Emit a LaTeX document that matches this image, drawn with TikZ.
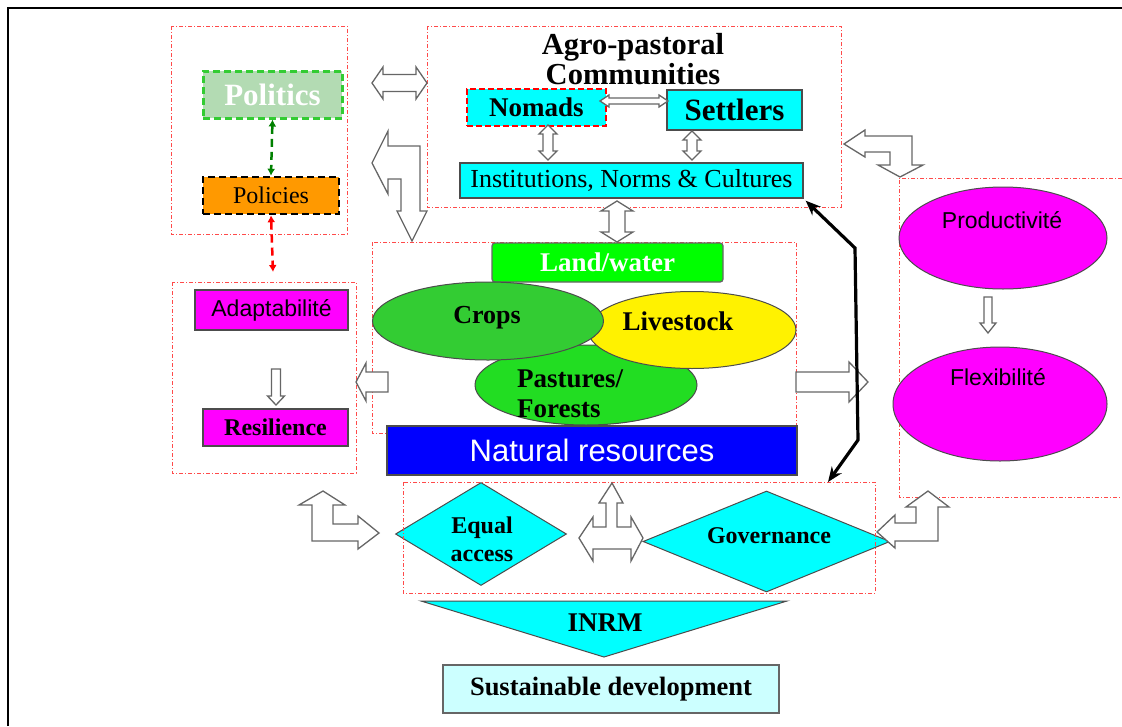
\documentclass[tikz,border=0pt]{standalone}
\usepackage{fontspec}
\setmainfont{Liberation Serif}
\newfontfamily\arialf{Liberation Sans}
\usetikzlibrary{shapes.geometric,arrows.meta}
\definecolor{grpred}{HTML}{FF4A4A}
\definecolor{polgreen}{HTML}{B3DBB3}
\definecolor{polborder}{HTML}{33CC33}
\definecolor{orangef}{HTML}{FF9900}
\definecolor{cyanf}{HTML}{00FFFF}
\definecolor{magf}{HTML}{FF00FF}
\definecolor{cropg}{HTML}{33CC33}
\definecolor{pastg}{HTML}{22DD22}
\definecolor{landg}{HTML}{00FF00}
\definecolor{blueNR}{HTML}{0000FF}
\definecolor{sdcyan}{HTML}{CCFFFF}
\definecolor{darkg}{HTML}{008000}
\newcommand\myfs[1]{\fontsize{#1}{#1}\selectfont}
% horizontal double block arrow: x1 x2 y shafthalf headhalf headlen
\newcommand\myHdbl[6]{\draw[blockarr] (#1,#3) -- ({#1+#6},{#3-#5}) -- ({#1+#6},{#3-#4}) -- ({#2-#6},{#3-#4}) -- ({#2-#6},{#3-#5}) -- (#2,#3) -- ({#2-#6},{#3+#5}) -- ({#2-#6},{#3+#4}) -- ({#1+#6},{#3+#4}) -- ({#1+#6},{#3+#5}) -- cycle;}
% vertical double block arrow: y1 y2 x shafthalf headhalf headlen
\newcommand\myVdbl[6]{\draw[blockarr] (#3,#1) -- ({#3+#5},{#1+#6}) -- ({#3+#4},{#1+#6}) -- ({#3+#4},{#2-#6}) -- ({#3+#5},{#2-#6}) -- (#3,#2) -- ({#3-#5},{#2-#6}) -- ({#3-#4},{#2-#6}) -- ({#3-#4},{#1+#6}) -- ({#3-#5},{#1+#6}) -- cycle;}
% vertical single down arrow: y1 y2 x shafthalf headhalf headlen
\newcommand\myVdown[6]{\draw[blockarr] ({#3-#4},#1) -- ({#3+#4},#1) -- ({#3+#4},{#2-#6}) -- ({#3+#5},{#2-#6}) -- (#3,#2) -- ({#3-#5},{#2-#6}) -- ({#3-#4},{#2-#6}) -- cycle;}
\begin{document}
\begin{tikzpicture}[x=1pt,y=-1pt,
  grp/.style={draw=grpred, line width=0.9pt, dash pattern=on 4pt off 2pt on 1pt off 2pt},
  blockarr/.style={draw=black!60, fill=white, line width=1.3pt, line join=miter},
  rbox/.style={rectangle, inner sep=0pt, line width=1.3pt},
  ell/.style={ellipse, draw=black!70, line width=1pt, inner sep=0pt},
  dia/.style={diamond, draw=black!70, line width=1pt, inner sep=0pt, fill=cyanf},
  lbl/.style={anchor=base, inner sep=0pt, font=\bfseries\myfs{#1}},
  lbl/.default=24,
  bigarr/.style={line width=3.2pt, {Stealth[length=15pt,width=12pt]}-{Stealth[length=15pt,width=12pt]}},
  dasharr/.style={line width=2.5pt, dash pattern=on 8pt off 5pt, {Latex[length=7pt,width=8pt]}-{Latex[length=7pt,width=8pt]}}
]
\useasboundingbox (0,0) rectangle (1122,726);
\fill[white] (0,0) rectangle (1122,726);
\draw[line width=2pt] (8,726) -- (8,8) -- (1122,8);

% group frames
\draw[grp] (171,26) rectangle (347,234);
\draw[grp] (427,26) rectangle (841,207);
\draw[grp] (1122,178) -- (899,178) -- (899,497) -- (1122,497);
\draw[grp] (372,242) rectangle (796,433);
\draw[grp] (172,282) rectangle (356,473);

% left column
\node[rbox, draw=polborder, dash pattern=on 7pt off 4pt, line width=3pt, fill=polgreen,
  minimum width=139, minimum height=47, text=white, font=\bfseries\myfs{31}] (politics) at (272.5,94.5) {Politics};
\node[rbox, draw=black, dash pattern=on 7pt off 4pt, line width=2.5pt, fill=orangef,
  minimum width=136, minimum height=37, font=\myfs{24}] (policies) at (271,195.5) {Policies};
\coordinate (adtop) at (273,272);
\draw[dasharr, darkg] (politics.south) -- (policies.north);
\draw[dasharr, red] (policies.south) -- (adtop);

\node[rbox, draw=black!70, fill=magf, minimum width=153, minimum height=40,
  font=\arialf\myfs{23}] (adapt) at (271.5,310) {Adaptabilité};
\node[rbox, draw=black!70, fill=magf, minimum width=145, minimum height=37,
  font=\bfseries\myfs{24}] (resil) at (275.5,427.5) {Resilience};
\myVdown{369}{405}{276}{4.5}{8.5}{9}

% agro-pastoral communities
\node[lbl=30.5] (agro1) at (633,54) {Agro-pastoral};
\node[lbl=30.5] (agro2) at (633,84) {Communities};
\node[rbox, draw=red, dash pattern=on 6pt off 3pt, line width=2pt, fill=cyanf,
  minimum width=139, minimum height=37, font=\bfseries\myfs{27}] (nomads) at (536.5,107.5) {Nomads};
\node[rbox, draw=black!70, fill=cyanf, minimum width=135, minimum height=40,
  font=\bfseries\myfs{31}] (settlers) at (734.5,110) {Settlers};
\node[rbox, draw=black!70, fill=cyanf, minimum width=343, minimum height=35,
  font=\myfs{26}] (inst) at (631.5,180.5) {Institutions, Norms \& Cultures};
\myHdbl{600}{668}{101}{3}{6}{9}
\myVdbl{125}{160}{548}{5}{9}{9}
\myVdbl{131}{160}{692}{5}{9}{9}

% middle block
\node[rbox, draw=black!60, rounded corners=3pt, fill=landg, minimum width=231, minimum height=39,
  text=white, font=\bfseries\myfs{27}] (land) at (607.5,262.5) {Land/water};
\node[ell, fill=pastg, minimum width=222, minimum height=80] (pastures) at (586,385) {};
\node[ell, fill=yellow, minimum width=208, minimum height=77] (livestock) at (692,330) {};
\node[ell, fill=cropg, minimum width=231, minimum height=78] (crops) at (488,321) {};
\node[lbl=26] (cropst) at (487,323) {Crops};
\node[lbl=27] (livet) at (678,330) {Livestock};
\node[lbl=27, anchor=base west] (past1) at (517,387) {Pastures/};
\node[lbl=27, anchor=base west] (past2) at (517,417) {Forests};
\node[rbox, draw=black!70, line width=2pt, fill=blueNR, minimum width=410, minimum height=49,
  text=white, font=\arialf\myfs{31}] (natres) at (592,450.5) {Natural resources};
\myVdbl{201}{242}{617}{8}{16}{10}

% right column
\node[ell, fill=magf, minimum width=208, minimum height=102] (prod) at (1003,238) {};
\node[ell, fill=magf, minimum width=214, minimum height=114] (flex) at (1000,404) {};
\node[anchor=base, inner sep=0pt, font=\arialf\myfs{23}] (prodt) at (1002,228) {Productivité};
\node[anchor=base, inner sep=0pt, font=\arialf\myfs{23}] (flext) at (998,385) {Flexibilité};
\myVdown{297}{333}{988}{4}{8}{10}

% bottom
\node[dia, minimum width=171, minimum height=103] (equal) at (481,534) {};
\node[dia, minimum width=247, minimum height=101] (gov) at (766.5,541.5) {};
\node[lbl] (equal1) at (482,533) {Equal};
\node[lbl] (equal2) at (482,561) {access};
\node[lbl] (govt) at (769,543) {Governance};
\draw[grp] (403,482) rectangle (875,593);
\draw[draw=black!70, line width=1pt, fill=cyanf] (421,601) -- (787,601) -- (604,657) -- cycle;
\node[lbl=27] (inrm) at (605,631) {INRM};
\node[rbox, draw=black!60, fill=sdcyan, minimum width=336, minimum height=48,
  font=\bfseries\myfs{26.5}] (sd) at (611,689) {Sustainable development};

% block arrows
\myHdbl{372}{427}{83}{8.5}{16}{11}
% left-down bent arrow
\draw[blockarr] (372,163) -- (388,131) -- (388,146) -- (420,146) -- (420,211) -- (427,211) -- (412,241) -- (397,211) -- (401,211) -- (401,179) -- (388,179) -- (388,194) -- cycle;
% top-right bent arrow
\draw[blockarr] (844,144) -- (865,130) -- (865,136) -- (912,136) -- (912,165) -- (923,165) -- (900,177) -- (878,165) -- (890,165) -- (890,152) -- (865,152) -- (865,157) -- cycle;
% left arrow (middle -> left group)
\draw[blockarr] (356,382) -- (366,363) -- (366,372) -- (388,372) -- (388,392) -- (366,392) -- (366,401) -- cycle;
% right arrow (middle -> right group)
\draw[blockarr] (796,372) -- (849,372) -- (849,362) -- (868,382) -- (849,402) -- (849,392) -- (796,392) -- cycle;
% bottom-left bent arrow
\draw[blockarr] (323,491) -- (345,505) -- (333,505) -- (333,524) -- (358,524) -- (358,516) -- (379,533) -- (358,549) -- (358,541) -- (312,541) -- (312,505) -- (299,505) -- cycle;
% middle three-way arrow
\draw[blockarr] (612,483) -- (623,503) -- (617,503) -- (617,527) -- (631,527) -- (631,517) -- (643,538) -- (631,561) -- (631,549) -- (593,549) -- (593,561) -- (579,538) -- (593,517) -- (593,527) -- (606,527) -- (606,503) -- (599,503) -- cycle;
% bottom-right bent arrow
\draw[blockarr] (877,532) -- (895,515) -- (895,523) -- (916,523) -- (916,507) -- (906,507) -- (928,491) -- (949,507) -- (938,507) -- (938,541) -- (895,541) -- (895,548) -- cycle;

% black double arrow
\coordinate (bk1) at (855,248);
\coordinate (bk2) at (858,440);
\coordinate (govtop) at (828,482);
\draw[bigarr, line join=miter] ([xshift=2pt,yshift=-2pt]inst.south east) -- (bk1) -- (bk2) -- (govtop);
\end{tikzpicture}
\end{document}
